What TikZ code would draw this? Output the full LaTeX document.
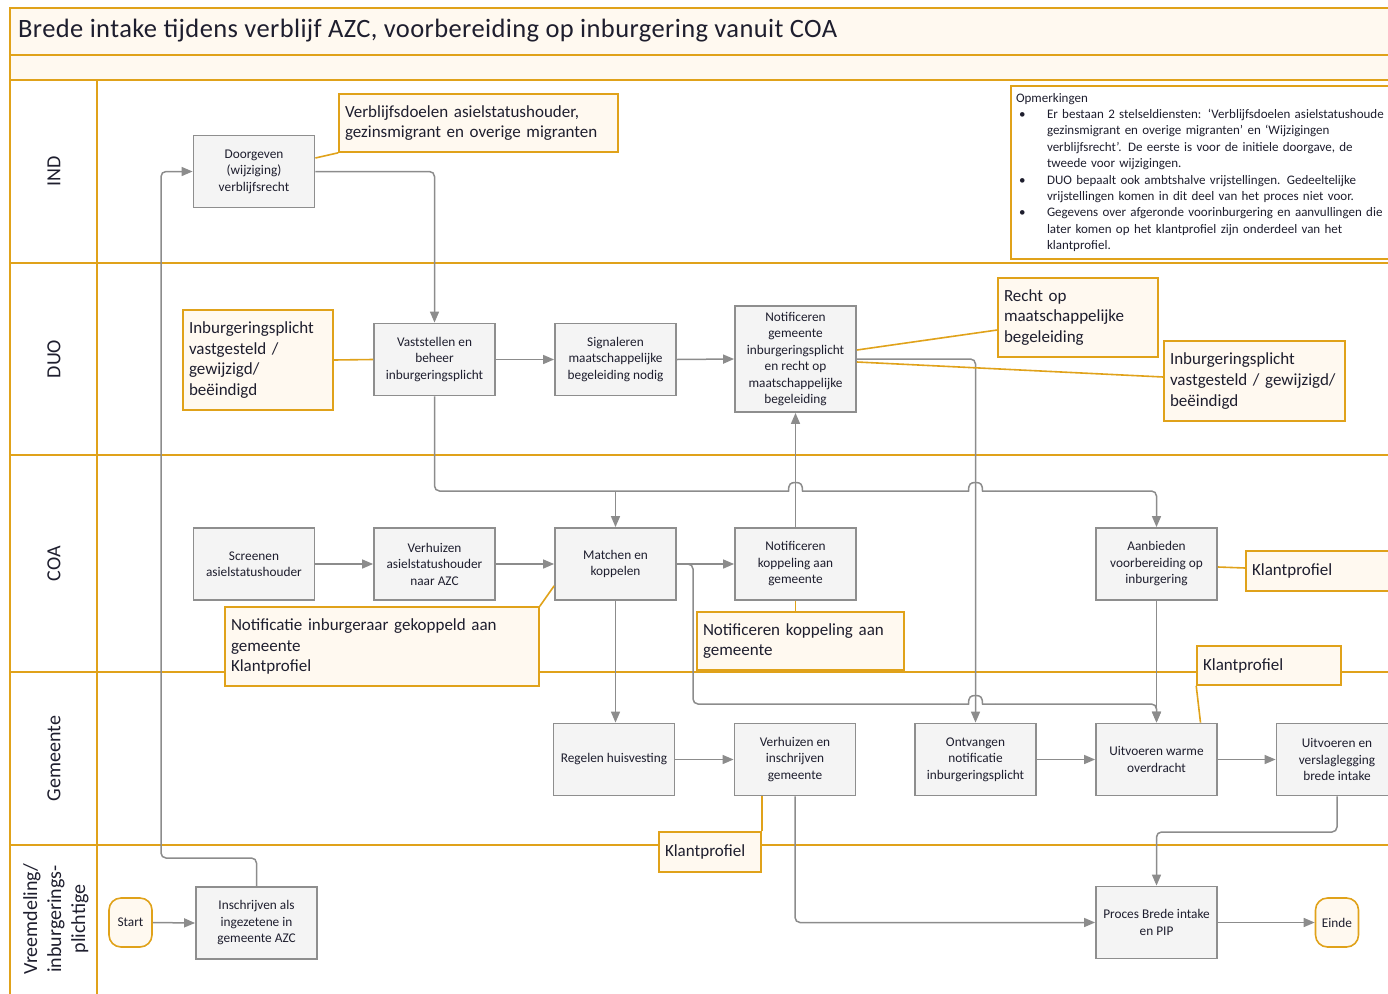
\documentclass[tikz,border=0pt]{standalone}
\usepackage{fontspec}
\setmainfont{Carlito}
\newfontfamily\titlefont[LetterSpace=1.5]{Carlito}
\usetikzlibrary{arrows.meta,calc}
\definecolor{lane}{HTML}{E0A21A}
\definecolor{cream}{HTML}{FFF9F0}
\definecolor{boxfill}{HTML}{F4F4F4}
\definecolor{boxline}{HTML}{8E8E8E}
\definecolor{conn}{HTML}{8C8C8C}
\definecolor{txt}{HTML}{1E1E2E}
\begin{document}
\begin{tikzpicture}[x=1pt,y=-1pt,
 proc/.style={draw=boxline, fill=boxfill, line width=1.8pt, minimum width=121pt, minimum height=72pt, align=center, inner sep=2pt, font=\fontsize{13.3}{16.5}\selectfont, text=txt},
 callout/.style={draw=lane, fill=cream, line width=1.6pt, align=left, inner xsep=6pt, inner ysep=2pt, font=\fontsize{17}{20.8}\selectfont, text=txt},
 term/.style={draw=lane, fill=cream, line width=1.6pt, rounded corners=12pt, minimum width=43pt, minimum height=49pt, font=\fontsize{13.3}{15}\selectfont, text=txt, inner sep=1pt},
 flow/.style={draw=conn, line width=1.5pt, rounded corners=5pt, -{Triangle[length=11pt,width=9pt]}},
 flowline/.style={draw=conn, line width=1.5pt},
 link/.style={draw=lane, line width=1.6pt},
 lanelbl/.style={rotate=90, font=\fontsize{20}{24}\selectfont, align=center, text=txt},
 lanerule/.style={draw=lane, line width=1.6pt}]
\useasboundingbox (0,0) rectangle (1388,993);

% ---------- frame and lanes ----------
\fill[cream] (10,8) rectangle (1400,80);
\draw[lanerule] (1400,8) -- (10,8) -- (10,1000);
\foreach \yy in {55,80,263,455,672,845} {\draw[lanerule] (10,\yy) -- (1400,\yy);}
\draw[lanerule] (97,80) -- (97,1000);

\node[anchor=west, font=\titlefont\fontsize{26.5}{30}\selectfont, text=txt, inner sep=0pt] (title) at (18,31) {Brede intake tijdens verblijf AZC, voorbereiding op inburgering vanuit COA};

\node[lanelbl] (lIND) at (54,171.5) {IND};
\node[lanelbl] (lDUO) at (54,359) {DUO};
\node[lanelbl] (lCOA) at (54,563.5) {COA};
\node[lanelbl] (lGEM) at (54,758.5) {Gemeente};
\node[lanelbl] (lVRE) at (56,919) {Vreemdeling/\\inburgerings-\\plichtige};

% ---------- process nodes ----------
\node[proc] (doorg) at (254,171.5) {Doorgeven\\(wijziging)\\verblijfsrecht};
\node[proc] (vast)  at (434.5,359.5) {Vaststellen en\\beheer\\inburgeringsplicht};
\node[proc] (sign)  at (615.5,359.5) {Signaleren\\maatschappelijke\\begeleiding nodig};
\node[proc, minimum height=106pt] (notg) at (795.5,359) {Notificeren\\gemeente\\inburgeringsplicht\\en recht op\\maatschappelijke\\begeleiding};
\node[proc] (scr)   at (254,564) {Screenen\\asielstatushouder};
\node[proc] (verh)  at (434.5,564) {Verhuizen\\asielstatushouder\\naar AZC};
\node[proc] (match) at (615.5,564) {Matchen en\\koppelen};
\node[proc] (notk)  at (795.5,564) {Notificeren\\koppeling aan\\gemeente};
\node[proc] (aanb)  at (1156.5,564) {Aanbieden\\voorbereiding op\\inburgering};
\node[proc] (regel) at (614,759.5) {Regelen huisvesting};
\node[proc] (vig)   at (795,759.5) {Verhuizen en\\inschrijven\\gemeente};
\node[proc] (ontv)  at (975.5,759.5) {Ontvangen\\notificatie\\inburgeringsplicht};
\node[proc] (uwo)   at (1156.5,759.5) {Uitvoeren warme\\overdracht};
\node[proc] (uvb)   at (1337,759.5) {Uitvoeren en\\verslaglegging\\brede intake};
\node[proc] (insch) at (256.5,923) {Inschrijven als\\ingezetene in\\gemeente AZC};
\node[proc] (proc)  at (1156.5,922.5) {Proces Brede intake\\en PIP};
\node[term] (start) at (130.5,922.5) {Start};
\node[term] (einde) at (1337,922.5) {Einde};

% ---------- flow connectors ----------
\coordinate (h1a) at (780,491);
\coordinate (h1b) at (995,491);
\coordinate (h2a) at (950,704);
\coordinate (h2b) at (995,704);
\draw[flow] (start.east) -- (insch.west);
\draw[flow] (insch.north) |- (161,858) |- (doorg.west);
\draw[flow] (doorg.east) -| (vast.north);
\draw[flow] (vast.east) -- (sign.west);
\draw[flow] (sign.east) -- (notg.west);
\draw[flow, -] (vast.south) |- (h1a);
\draw[flowline] (h1a) -- (788.5,491)
   .. controls (788.5,484) and (790.5,482.5) .. (795.5,482.5)
   .. controls (800.5,482.5) and (802.5,484) .. (802.5,491) -- (968.5,491)
   .. controls (968.5,484) and (970.5,482.5) .. (975.5,482.5)
   .. controls (980.5,482.5) and (982.5,484) .. (982.5,491) -- (h1b);
\draw[flow] (h1b) -| (aanb.north);
\draw[flow] (match.north |- h1a) -- (match.north);
\draw[flow] (scr.east) -- (verh.west);
\draw[flow] (verh.east) -- (match.west);
\draw[flow] (match.east) -- (notk.west);
\draw[flow] (notk.north) -- (notg.south);
\draw[flow] (notg.east) -| (ontv.north);
\draw[flow, -] (match.east) -| (693,650) |- (h2a);
\draw[flowline] (h2a) -- (968.5,704)
   .. controls (968.5,697) and (970.5,695.5) .. (975.5,695.5)
   .. controls (980.5,695.5) and (982.5,697) .. (982.5,704) -- (h2b);
\draw[flow] (h2b) -| (uwo.north);
\draw[flow] (aanb.south) -- (uwo.north);
\draw[flow] (match.south) -- (match.south |- regel.north);
\draw[flow] (regel.east) -- (vig.west);
\draw[flow] (ontv.east) -- (uwo.west);
\draw[flow] (uwo.east) -- (uvb.west);
\draw[flow] (uvb.south) -- (uvb.south |- 0,832) -| (proc.north);
\draw[flow] (vig.south) |- (proc.west);
\draw[flow] (proc.east) -- (einde.west);

% ---------- callouts ----------
\node[callout, text width=267pt, minimum height=58pt] (cA) at (478.5,123) {Verblijfsdoelen asielstatushouder,\\gezinsmigrant en overige migranten};
\node[callout, text width=138pt, minimum height=100pt] (cB) at (258,360) {Inburgeringsplicht\\vastgesteld /\\gewijzigd/\\beëindigd};
\node[callout, text width=148pt, minimum height=79pt] (cC) at (1078,317.5) {Recht op\\maatschappelijke\\begeleiding};
\node[callout, text width=169pt, minimum height=80pt] (cD) at (1254.5,381) {Inburgeringsplicht\\vastgesteld / gewijzigd/\\beëindigd};
\node[callout, text width=302pt, minimum height=79pt] (cF) at (382,646.5) {Notificatie inburgeraar gekoppeld aan\\gemeente\\Klantprofiel};
\node[callout, text width=195pt, minimum height=58pt] (cG) at (800.5,641) {Notificeren koppeling aan\\gemeente};
\node[callout, text width=142pt, minimum height=40pt] (cH) at (1323,571) {Klantprofiel};
\node[callout, text width=132pt, minimum height=39pt] (cI) at (1269,665.5) {Klantprofiel};
\node[callout, text width=90pt, minimum height=40pt] (cJ) at (710,852) {Klantprofiel};

% ---------- callout links ----------
\draw[link] ($(doorg.east)+(0,-13.5)$) -- (cA.south west);
\draw[link] (cB.east) -- (vast.west);
\draw[link] ($(notg.east)+(0,-9)$) -- ($(cC.west)+(0,12.5)$);
\draw[link] ($(notg.east)+(0,3)$) -- ($(cD.west)+(0,-4)$);
\draw[link] ($(match.south west)+(0,-15)$) -- (cF.north east);
\draw[link] (notk.south) -- (notk.south |- cG.north);
\draw[link] ($(aanb.east)+(0,3)$) -- ($(cH.west)+(0,-3)$);
\draw[link] (cI.south west) -- ($(uwo.north)+(44,0)$);
\draw[link] (cJ.north east) -- (cJ.north east |- vig.south);

% ---------- remarks ----------
\node[draw=lane, line width=2pt, fill=white, anchor=north west, inner xsep=5pt, inner ysep=3pt, text width=420pt, minimum height=173pt, align=left, font=\fontsize{13}{16.4}\selectfont, text=txt] (rem) at (1010,85) {Opmerkingen\\
\hspace*{3pt}\makebox[28pt][l]{•}Er bestaan 2 stelseldiensten: ‘Verblijfsdoelen asielstatushoude\\
\hspace*{31pt}gezinsmigrant en overige migranten’ en ‘Wijzigingen\\
\hspace*{31pt}verblijfsrecht’. De eerste is voor de initiele doorgave, de\\
\hspace*{31pt}tweede voor wijzigingen.\\
\hspace*{3pt}\makebox[28pt][l]{•}DUO bepaalt ook ambtshalve vrijstellingen. Gedeeltelijke\\
\hspace*{31pt}vrijstellingen komen in dit deel van het proces niet voor.\\
\hspace*{3pt}\makebox[28pt][l]{•}Gegevens over afgeronde voorinburgering en aanvullingen die\\
\hspace*{31pt}later komen op het klantprofiel zijn onderdeel van het\\
\hspace*{31pt}klantprofiel.};
\end{tikzpicture}
\end{document}
